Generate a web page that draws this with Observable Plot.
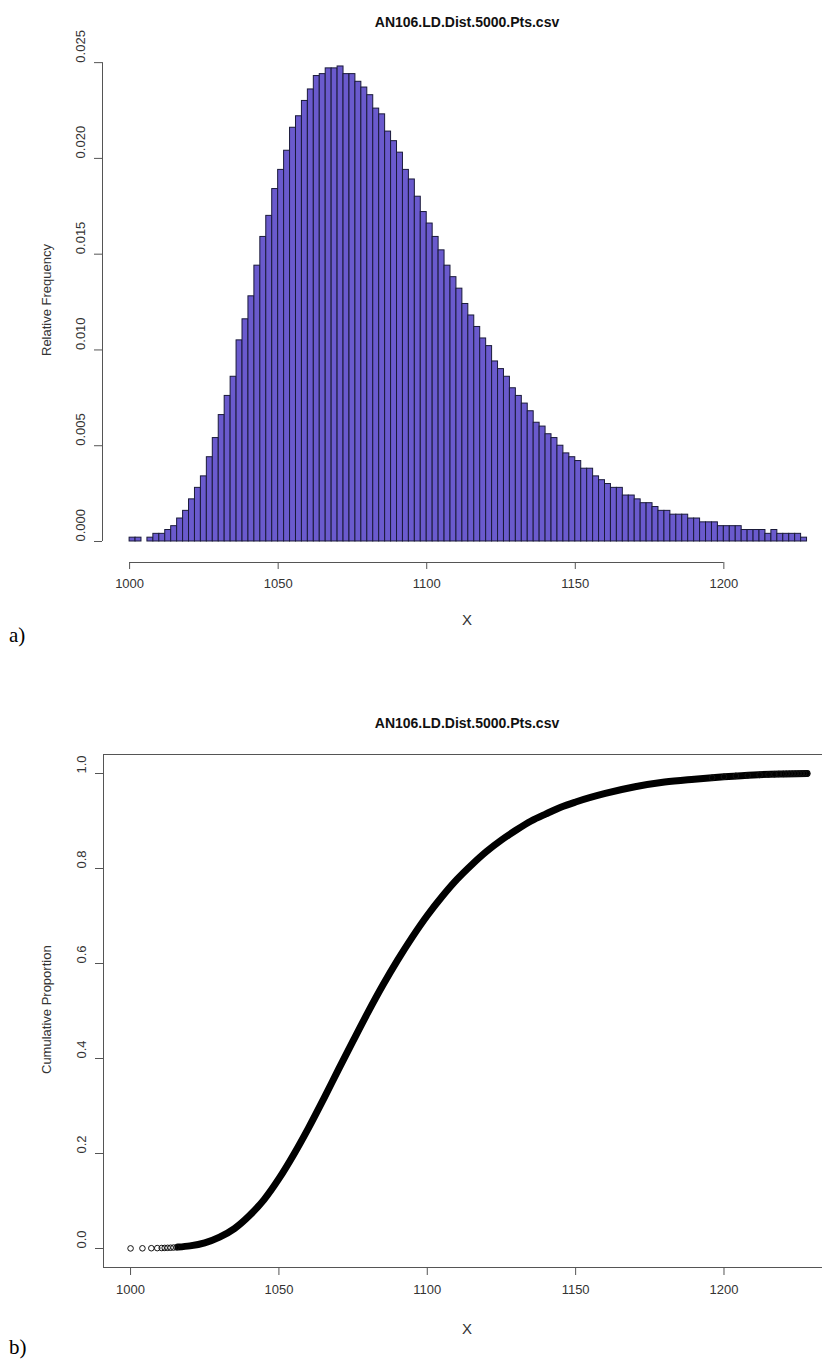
<!DOCTYPE html>
<html>
<head>
<meta charset="utf-8">
<script src="https://cdn.jsdelivr.net/npm/d3@7"></script>
<script src="https://cdn.jsdelivr.net/npm/@observablehq/plot@0.6"></script>
<style>
  body { margin: 0; background: #fff; }
  #wrap { position: relative; width: 822px; height: 1360px; overflow: hidden; background: #fff;
          font-family: "Liberation Sans", Arial, sans-serif; color: #222; }
  .svgbox { position: absolute; left: 0; width: 822px; }
  .title { position: absolute; left: 56px; width: 822px; text-align: center; font-weight: bold;
           font-size: 14px; color: #111; line-height: 16px; }
  .xlab { position: absolute; left: 56px; width: 822px; text-align: center; font-size: 15px; color: #333; line-height: 16px; }
  .ylab { position: absolute; font-size: 13px; color: #333; transform-origin: 0 0; white-space: nowrap; line-height: 14px; }
  .tag { position: absolute; left: 9px; font-family: "Liberation Serif", "Times New Roman", serif; font-size: 21px; color: #000; line-height: 22px; }
</style>
</head>
<body>
<div id="wrap"></div>
<script>
// ---------- data ----------
const chartTitle = "AN106.LD.Dist.5000.Pts.csv";
const binStart = 1000;
const binWidth = 2;
// relative frequency for each 2-unit bin from 1000 to 1228
const relFreq = [
  0.0002, 0.0002, 0.0000, 0.0002, 0.0004, 0.0004, 0.0006, 0.0008, 0.0012, 0.0016,
  0.0022, 0.0028, 0.0034, 0.0044, 0.0054, 0.0066, 0.0076, 0.0086, 0.0105, 0.0116,
  0.0128, 0.0144, 0.0159, 0.0170, 0.0184, 0.0194, 0.0204, 0.0216, 0.0222, 0.0230,
  0.0236, 0.0243, 0.0244, 0.0247, 0.0247, 0.0248, 0.0244, 0.0244, 0.0240, 0.0237,
  0.0233, 0.0226, 0.0223, 0.0214, 0.0209, 0.0203, 0.0194, 0.0189, 0.0180, 0.0172,
  0.0166, 0.0159, 0.0152, 0.0144, 0.0138, 0.0132, 0.0124, 0.0118, 0.0112, 0.0106,
  0.0102, 0.0094, 0.0090, 0.0086, 0.0080, 0.0076, 0.0072, 0.0068, 0.0062, 0.0060,
  0.0056, 0.0054, 0.0050, 0.0046, 0.0044, 0.0042, 0.0038, 0.0038, 0.0034, 0.0032,
  0.0030, 0.0028, 0.0028, 0.0024, 0.0024, 0.0022, 0.0020, 0.0020, 0.0018, 0.0016,
  0.0016, 0.0014, 0.0014, 0.0014, 0.0012, 0.0012, 0.0010, 0.0010, 0.0010, 0.0008,
  0.0008, 0.0008, 0.0008, 0.0006, 0.0006, 0.0006, 0.0006, 0.0004, 0.0006, 0.0004,
  0.0004, 0.0004, 0.0004, 0.0002
];
const xTicks = [1000, 1050, 1100, 1150, 1200];
const yTicksA = [0, 0.005, 0.010, 0.015, 0.020, 0.025];
const yTicksB = [0, 0.2, 0.4, 0.6, 0.8, 1.0];

const ecdfX = [1016, 1020, 1025, 1030, 1035, 1040, 1045, 1050, 1055, 1060, 1065, 1070, 1075, 1080,
  1085, 1090, 1095, 1100, 1105, 1110, 1115, 1120, 1125, 1130, 1135, 1140, 1145, 1150, 1160, 1170,
  1180, 1190, 1200, 1210, 1220, 1228];
const ecdfP = [0.003, 0.0056, 0.012, 0.024, 0.042, 0.069, 0.103, 0.147, 0.198, 0.254, 0.314, 0.376,
  0.437, 0.497, 0.554, 0.607, 0.656, 0.701, 0.741, 0.777, 0.808, 0.836, 0.860, 0.881, 0.900, 0.915,
  0.929, 0.940, 0.958, 0.972, 0.982, 0.988, 0.993, 0.997, 0.999, 1.0];
// isolated points visible at the tails of panel b
const tailX = [1000, 1004, 1007, 1009, 1010.5, 1011.5, 1012.5, 1013.5, 1014.5, 1015.5,
  1196, 1200, 1204, 1208, 1212, 1215, 1217, 1218.5, 1220, 1221, 1222, 1223, 1224, 1225, 1226, 1227, 1228];
const tailP = [0.0002, 0.0004, 0.0006, 0.0008, 0.0010, 0.0012, 0.0014, 0.0016, 0.0020, 0.0024,
  0.991, 0.993, 0.995, 0.996, 0.997, 0.998, 0.9985, 0.999, 0.9992, 0.9994, 0.9995, 0.9996, 0.9997, 0.9998, 0.9999, 1.0, 1.0];

// ---------- build ----------
const bins = relFreq.map((f, i) => ({x0: binStart + i * binWidth, x1: binStart + (i + 1) * binWidth, f}))
  .filter(d => d.f > 0);
const band = ecdfX.map((x, i) => ({x, p: ecdfP[i]}));
const tails = tailX.map((x, i) => ({x, p: tailP[i]}));

const xDomain = [990.88, 1233.2];
const font = {fontFamily: "'Liberation Sans', Arial, sans-serif", fontSize: "13px", color: "#333", background: "transparent", overflow: "visible"};
const axisColor = "#555";

const yDomA = [-0.000992, 0.02579];
const plotA = Plot.plot({
  width: 822, height: 680,
  marginTop: 47, marginBottom: 120, marginLeft: 102, marginRight: 0,
  x: {type: "linear", domain: xDomain, axis: null},
  y: {type: "linear", domain: yDomA, axis: null},
  style: font,
  marks: [
    Plot.rect(bins, {x1: "x0", x2: "x1", y1: 0, y2: "f", fill: "#6A5ACD", stroke: "#1a1a3a", strokeWidth: 1}),
    Plot.ruleY([yDomA[0]], {x1: xTicks[0], x2: xTicks[xTicks.length - 1], stroke: axisColor, dy: 2}),
    Plot.axisX(xTicks, {anchor: "bottom", tickSize: 7, tickPadding: 0, text: null, stroke: axisColor, dy: 2, label: null}),
    Plot.text(xTicks, {x: d => d, frameAnchor: "bottom", dy: 27, text: d => String(d), fill: "#333", fontSize: 13}),
    Plot.ruleX([xDomain[0]], {y1: yTicksA[0], y2: yTicksA[yTicksA.length - 1], stroke: axisColor}),
    Plot.axisY(yTicksA, {anchor: "left", tickSize: 8, text: null, stroke: axisColor, label: null}),
    Plot.text(yTicksA, {y: d => d, frameAnchor: "left", dx: -22, rotate: -90, text: d => d3.format(".3f")(d), fill: "#333", fontSize: 13})
  ]
});

const yDomB = [-0.04, 1.04];
const plotB = Plot.plot({
  width: 822, height: 680,
  marginTop: 74, marginBottom: 93, marginLeft: 103, marginRight: 0,
  x: {type: "linear", domain: xDomain, axis: null},
  y: {type: "linear", domain: yDomB, axis: null},
  style: font,
  marks: [
    Plot.line(band, {x: "x", y: "p", stroke: "#000", strokeWidth: 7, curve: "monotone-x"}),
    Plot.dot(tails, {x: "x", y: "p", r: 2.8, stroke: "#111", strokeWidth: 1, fill: "none"}),
    Plot.ruleY([yDomB[0]], {stroke: axisColor}),
    Plot.ruleY([yDomB[1]], {stroke: axisColor}),
    Plot.ruleX([xDomain[0]], {stroke: axisColor}),
    Plot.axisX(xTicks, {anchor: "bottom", tickSize: 8, text: null, stroke: axisColor, label: null}),
    Plot.axisY(yTicksB, {anchor: "left", tickSize: 8, text: null, stroke: axisColor, label: null}),
    Plot.text(xTicks, {x: d => d, frameAnchor: "bottom", dy: 26, text: d => String(d), fill: "#333", fontSize: 13}),
    Plot.text(yTicksB, {y: d => d, frameAnchor: "left", dx: -22, rotate: -90, text: d => d3.format(".1f")(d), fill: "#333", fontSize: 13})
  ]
});

const wrap = document.getElementById("wrap");
function place(el, top) { el.classList.add("svgbox"); el.style.top = top + "px"; wrap.appendChild(el); }
place(plotA, 0);
place(plotB, 680);

function addDiv(cls, text, top, extra) {
  const d = document.createElement("div");
  d.className = cls; d.textContent = text; d.style.top = top + "px";
  if (extra) Object.assign(d.style, extra);
  wrap.appendChild(d); return d;
}
addDiv("title", chartTitle, 14);
addDiv("title", chartTitle, 715);
addDiv("xlab", "X", 612);
addDiv("xlab", "X", 1321);
addDiv("tag", "a)", 624);
addDiv("tag", "b)", 1336);
const yl1 = addDiv("ylab", "Relative Frequency", 0);
const yl2 = addDiv("ylab", "Cumulative Proportion", 0);
function rot(el, cx, cy) {
  const w = el.getBoundingClientRect().width;
  el.style.left = (cx - 7) + "px";
  el.style.top = (cy + w / 2) + "px";
  el.style.transform = "rotate(-90deg)";
}
rot(yl1, 47, 300);
rot(yl2, 47, 1010);
</script>
</body>
</html>
